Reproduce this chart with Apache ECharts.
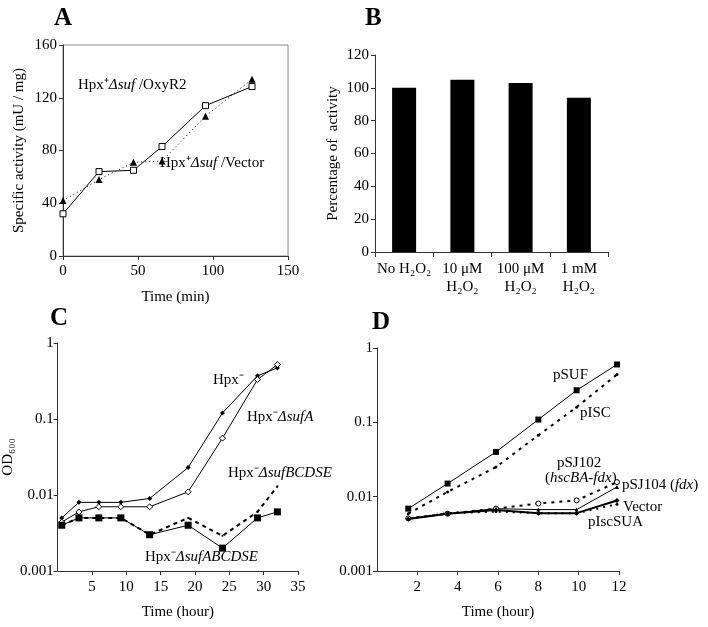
<!DOCTYPE html>
<html><head><meta charset="utf-8">
<script src="https://cdn.jsdelivr.net/npm/echarts@6/dist/echarts.min.js"></script>
<style>html,body{margin:0;padding:0;background:#fff}#c{width:708px;height:627px}</style>
</head><body><div id="c"></div>
<script>
// Panel A
const timesA = [0, 24, 47, 66, 95, 126];
const oxyR2A = [32, 64, 65, 83, 114, 128.5];
const vectorA = [42, 58, 71, 72, 106, 134];
// Panel B
const catsB = ['No H₂O₂', '10 μM\nH₂O₂', '100 μM\nH₂O₂', '1 mM\nH₂O₂'];
const valsB = [100, 105, 103, 94];
// Panel C
const timesC = [0.6, 3.1, 6.0, 9.2, 13.4, 19.0, 24.0, 29.1, 32.0];
const hpxC = [0.005, 0.008, 0.008, 0.008, 0.009, 0.023, 0.12, 0.37, 0.47];
const sufAC = [0.0044, 0.006, 0.007, 0.007, 0.007, 0.011, 0.056, 0.33, 0.52];
const sufBCDSEC = [0.004, 0.005, 0.005, 0.005, 0.003, 0.005, 0.0029, 0.006, 0.013];
const sufABCDSEC = [0.004, 0.005, 0.005, 0.005, 0.003, 0.004, 0.002, 0.005, 0.006];
// Panel D
const timesD = [1.55, 3.5, 5.9, 8.0, 9.9, 11.9];
const pSUF = [0.0069, 0.015, 0.04, 0.109, 0.27, 0.6];
const pISC = [0.0059, 0.0116, 0.025, 0.067, 0.16, 0.44];
const pSJ102 = [0.0051, 0.0059, 0.0069, 0.0081, 0.0089, 0.0157];
const pSJ104 = [0.0051, 0.0059, 0.0069, 0.0067, 0.0067, 0.0135];
const vectorD = [0.005, 0.0059, 0.0066, 0.006, 0.006, 0.0089];
const pIscSUA = [0.005, 0.006, 0.0063, 0.006, 0.006, 0.0079];

const F = 'Liberation Serif';
const FS = 15;
const zip = (xs, ys) => xs.map((x, i) => [x, ys[i]]);
const lbl = {fontFamily: F, fontSize: FS, color: '#000'};
const axLine = {lineStyle: {color: '#333', width: 1}};
const logFmt = v => String(parseFloat(Number(v).toPrecision(3)));

const chart = echarts.init(document.getElementById('c'));
const ital = {fontFamily: F, fontSize: FS, fontStyle: 'italic', color: '#000'};
const norm = {fontFamily: F, fontSize: FS, color: '#000'};
function txt(x, y, text, extra) {
  return Object.assign({type: 'text', x: x, y: y, style: {text: text, rich: {i: ital, n: norm}, fontFamily: F, fontSize: FS, fill: '#000', verticalAlign: 'middle'}}, extra || {});
}
function title(x, y, t) {
  return {type: 'text', x: x, y: y, style: {text: t, fontFamily: F, fontSize: 25, fontWeight: 'bold', fill: '#000'}};
}

function line(xi, yi, data, o) {
  return Object.assign({type: 'line', xAxisIndex: xi, yAxisIndex: yi, data: data, animation: false,
    lineStyle: {color: '#000', width: 1}, itemStyle: {color: '#000'}, symbolSize: 5}, o);
}

chart.setOption({
  animation: false,
  grid: [
    {left: 63, top: 45, width: 225, height: 211, show: true, borderColor: '#888', borderWidth: 1},
    {left: 375, top: 55, width: 233, height: 197},
    {left: 55, top: 343, width: 243, height: 228},
    {left: 377, top: 348, width: 242, height: 223}
  ],
  xAxis: [
    {gridIndex: 0, type: 'value', min: 0, max: 150, interval: 50, axisLine: axLine, splitLine: {show: false},
     axisTick: {show: true, length: 4, lineStyle: {color: '#333'}}, axisLabel: Object.assign({margin: 8}, lbl),
     name: 'Time (min)', nameLocation: 'middle', nameGap: 34, nameTextStyle: lbl},
    {gridIndex: 1, type: 'category', data: catsB, axisLine: axLine,
     axisTick: {show: true, length: 5, lineStyle: {color: '#333'}}, axisLabel: Object.assign({margin: 8, lineHeight: 18, interval: 0}, lbl)},
    {gridIndex: 2, type: 'value', min: 0, max: 35, interval: 5, axisLine: axLine, splitLine: {show: false},
     axisTick: {show: true, length: 4, lineStyle: {color: '#333'}}, axisLabel: Object.assign({margin: 9, showMinLabel: false}, lbl),
     name: 'Time (hour)', nameLocation: 'middle', nameGap: 34, nameTextStyle: lbl},
    {gridIndex: 3, type: 'value', min: 0, max: 12, interval: 2, axisLine: axLine, splitLine: {show: false},
     axisTick: {show: true, length: 4, lineStyle: {color: '#333'}}, axisLabel: Object.assign({margin: 9, showMinLabel: false}, lbl),
     name: 'Time (hour)', nameLocation: 'middle', nameGap: 34, nameTextStyle: lbl}
  ],
  yAxis: [
    {gridIndex: 0, type: 'value', min: 0, max: 160, interval: 40, axisLine: Object.assign({show: true}, axLine), splitLine: {show: false},
     axisTick: {show: true, length: 4, lineStyle: {color: '#333'}}, axisLabel: Object.assign({margin: 6}, lbl),
     name: 'Specific activity (mU / mg)', nameLocation: 'middle', nameGap: 36, nameTextStyle: lbl},
    {gridIndex: 1, type: 'value', min: 0, max: 120, interval: 20, axisLine: Object.assign({show: true}, axLine), splitLine: {show: false},
     axisTick: {show: true, length: 4, lineStyle: {color: '#333'}}, axisLabel: Object.assign({margin: 6}, lbl),
     name: 'Percentage of  activity', nameLocation: 'middle', nameGap: 34, nameTextStyle: lbl},
    {gridIndex: 2, type: 'log', logBase: 10, min: 0.001, max: 1, axisLine: Object.assign({show: true}, axLine), splitLine: {show: false},
     minorTick: {show: false}, axisTick: {show: true, length: 4, lineStyle: {color: '#333'}},
     axisLabel: Object.assign({margin: 4, formatter: logFmt}, lbl),
     name: 'OD₆₀₀', nameLocation: 'middle', nameGap: 37, nameTextStyle: lbl},
    {gridIndex: 3, type: 'log', logBase: 10, min: 0.001, max: 1, axisLine: Object.assign({show: true}, axLine), splitLine: {show: false},
     axisTick: {show: true, length: 4, lineStyle: {color: '#333'}},
     axisLabel: Object.assign({margin: 4, formatter: logFmt}, lbl)}
  ],
  series: [
    line(0, 0, zip(timesA, oxyR2A), {symbol: 'rect', symbolSize: 6, itemStyle: {color: '#fff', borderColor: '#000', borderWidth: 1}}),
    line(0, 0, zip(timesA, vectorA), {symbol: 'triangle', symbolSize: 7, lineStyle: {color: '#000', width: 1, type: [1, 3]}}),
    {type: 'bar', xAxisIndex: 1, yAxisIndex: 1, data: valsB, barWidth: 24, itemStyle: {color: '#000'}, animation: false},
    line(2, 2, zip(timesC, hpxC), {symbol: 'diamond', symbolSize: 5}),
    line(2, 2, zip(timesC, sufAC), {symbol: 'diamond', symbolSize: 6, itemStyle: {color: '#fff', borderColor: '#000', borderWidth: 1}}),
    line(2, 2, zip(timesC, sufBCDSEC), {symbol: 'circle', symbolSize: 2, lineStyle: {color: '#000', width: 2, type: [4, 4]}}),
    line(2, 2, zip(timesC, sufABCDSEC), {symbol: 'rect', symbolSize: 7}),
    line(3, 3, zip(timesD, pSUF), {symbol: 'rect', symbolSize: 6}),
    line(3, 3, zip(timesD, pISC), {symbol: 'circle', symbolSize: 3, lineStyle: {color: '#000', width: 2, type: [3, 5]}}),
    line(3, 3, zip(timesD, pSJ102), {symbol: 'circle', symbolSize: 5, itemStyle: {color: '#fff', borderColor: '#000', borderWidth: 1}, lineStyle: {color: '#000', width: 2, type: [3, 5]}}),
    line(3, 3, zip(timesD, pSJ104), {symbol: 'triangle', symbolSize: 4}),
    line(3, 3, zip(timesD, vectorD), {symbol: 'diamond', symbolSize: 5, lineStyle: {color: '#000', width: 2}}),
    line(3, 3, zip(timesD, pIscSUA), {symbol: 'circle', symbolSize: 3, lineStyle: {color: '#000', width: 2, type: [2, 5]}})
  ],
  graphic: [
    title(54, 6, 'A'), title(365, 6, 'B'), title(50, 306, 'C'), title(372, 310, 'D'),
    txt(78, 85, '{n|Hpx⁺}{i|Δsuf}{n| /OxyR2}'),
    txt(160, 163, '{n|Hpx⁺}{i|Δsuf}{n| /Vector}'),
    txt(213, 380, '{n|Hpx⁻}'),
    txt(247, 417, '{n|Hpx⁻}{i|ΔsufA}'),
    txt(228, 473, '{n|Hpx⁻}{i|ΔsufBCDSE}'),
    txt(145, 557, '{n|Hpx⁻}{i|ΔsufABCDSE}'),
    txt(553, 375, '{n|pSUF}'),
    txt(580, 413, '{n|pISC}'),
    txt(557, 463, '{n|pSJ102}'),
    txt(545, 478, '{n|(}{i|hscBA-fdx}{n|)}'),
    txt(622, 485, '{n|pSJ104 (}{i|fdx}{n|)}'),
    txt(623, 507, '{n|Vector}'),
    txt(588, 522, '{n|pIscSUA}')
  ]
});
</script></body></html>
